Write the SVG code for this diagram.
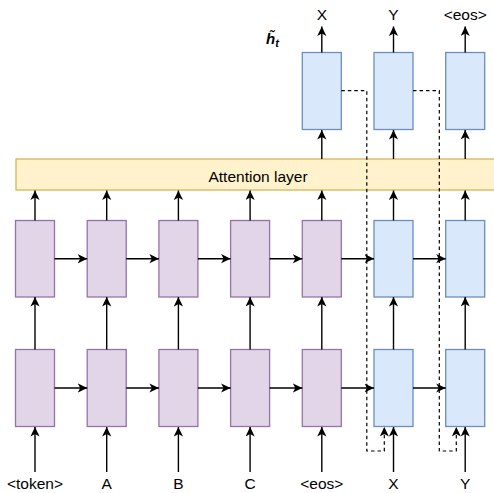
<svg xmlns="http://www.w3.org/2000/svg" width="494" height="493" viewBox="0 0 494 493">
<defs>
<style>
.enc{fill:#e1d5e7;stroke:#9673a6;stroke-width:1.3}
.dec{fill:#dae8fc;stroke:#6c8ebf;stroke-width:1.3}
.att{fill:#fff2cc;stroke:#d6b656;stroke-width:1.3}
.c{fill:none;stroke:#000;stroke-width:1.4;marker-end:url(#ah)}
.da{fill:none;stroke:#000;stroke-width:1.2;stroke-dasharray:3.5 3;marker-end:url(#ah)}
.t{font-family:"Liberation Sans",Arial,sans-serif;font-size:15.5px;fill:#000;text-anchor:middle}
</style>
<marker id="ah" markerUnits="userSpaceOnUse" markerWidth="11" markerHeight="10" refX="9.5" refY="4.6" orient="auto" viewBox="0 0 11 10">
<path d="M0,0 L9.5,4.6 L0,9.2 L2.5,4.6 z" fill="#000"/>
</marker>
</defs>

<g id="attention">
<rect class="att" x="16" y="159" width="490" height="31"/>
<text class="t" x="258" y="182">Attention layer</text>
</g>

<g id="enc-top">
<rect id="e1t" class="enc" x="15.5" y="220.5" width="39" height="76.5"/>
<rect id="e2t" class="enc" x="87.2" y="220.5" width="39" height="76.5"/>
<rect id="e3t" class="enc" x="158.9" y="220.5" width="39" height="76.5"/>
<rect id="e4t" class="enc" x="230.6" y="220.5" width="39" height="76.5"/>
<rect id="e5t" class="enc" x="302.3" y="220.5" width="39" height="76.5"/>
</g>
<g id="dec-top">
<rect id="d1t" class="dec" x="374" y="220.5" width="39" height="76.5"/>
<rect id="d2t" class="dec" x="445.7" y="220.5" width="39" height="76.5"/>
</g>
<g id="enc-bottom">
<rect id="e1b" class="enc" x="15.5" y="349.5" width="39" height="77"/>
<rect id="e2b" class="enc" x="87.2" y="349.5" width="39" height="77"/>
<rect id="e3b" class="enc" x="158.9" y="349.5" width="39" height="77"/>
<rect id="e4b" class="enc" x="230.6" y="349.5" width="39" height="77"/>
<rect id="e5b" class="enc" x="302.3" y="349.5" width="39" height="77"/>
</g>
<g id="dec-bottom">
<rect id="d1b" class="dec" x="374" y="349.5" width="39" height="77"/>
<rect id="d2b" class="dec" x="445.7" y="349.5" width="39" height="77"/>
</g>
<g id="dec-out">
<rect id="o1" class="dec" x="302.3" y="52.5" width="39" height="77"/>
<rect id="o2" class="dec" x="374" y="52.5" width="39" height="77"/>
<rect id="o3" class="dec" x="445.7" y="52.5" width="39" height="77"/>
</g>

<g id="labels">
<text class="t" x="35" y="489">&lt;token&gt;</text>
<text class="t" x="106.7" y="489">A</text>
<text class="t" x="178.4" y="489">B</text>
<text class="t" x="250.1" y="489">C</text>
<text class="t" x="321.8" y="489">&lt;eos&gt;</text>
<text class="t" x="393.5" y="489">X</text>
<text class="t" x="465.2" y="489">Y</text>
<text class="t" x="321.8" y="20">X</text>
<text class="t" x="393.5" y="20">Y</text>
<text class="t" x="465.2" y="20">&lt;eos&gt;</text>
<text x="266" y="44" style="font-family:'Liberation Sans',Arial,sans-serif;font-size:15px;font-weight:bold;font-style:italic;fill:#000">h̃<tspan font-size="11" dy="3">t</tspan></text>
</g>

<g id="connectors">
<path class="c" d="M35,472 V427"/>
<path class="c" d="M106.7,472 V427"/>
<path class="c" d="M178.4,472 V427"/>
<path class="c" d="M250.1,472 V427"/>
<path class="c" d="M321.8,472 V427"/>
<path class="c" d="M393.5,472 V427"/>
<path class="c" d="M465.2,472 V427"/>
<path class="c" d="M54.5,388 H87.2"/>
<path class="c" d="M126.2,388 H158.9"/>
<path class="c" d="M197.9,388 H230.6"/>
<path class="c" d="M269.6,388 H302.3"/>
<path class="c" d="M341.3,388 H374"/>
<path class="c" d="M413,388 H445.7"/>
<path class="c" d="M54.5,258.7 H87.2"/>
<path class="c" d="M126.2,258.7 H158.9"/>
<path class="c" d="M197.9,258.7 H230.6"/>
<path class="c" d="M269.6,258.7 H302.3"/>
<path class="c" d="M341.3,258.7 H374"/>
<path class="c" d="M413,258.7 H445.7"/>
<path class="c" d="M35,349.5 V297"/>
<path class="c" d="M106.7,349.5 V297"/>
<path class="c" d="M178.4,349.5 V297"/>
<path class="c" d="M250.1,349.5 V297"/>
<path class="c" d="M321.8,349.5 V297"/>
<path class="c" d="M393.5,349.5 V297"/>
<path class="c" d="M465.2,349.5 V297"/>
<path class="c" d="M35,220.5 V190.5"/>
<path class="c" d="M106.7,220.5 V190.5"/>
<path class="c" d="M178.4,220.5 V190.5"/>
<path class="c" d="M250.1,220.5 V190.5"/>
<path class="c" d="M321.8,220.5 V190.5"/>
<path class="c" d="M393.5,220.5 V190.5"/>
<path class="c" d="M465.2,220.5 V190.5"/>
<path class="c" d="M321.8,159 V130"/>
<path class="c" d="M393.5,159 V130"/>
<path class="c" d="M465.2,159 V130"/>
<path class="c" d="M321.8,52.5 V26.5"/>
<path class="c" d="M393.5,52.5 V26.5"/>
<path class="c" d="M465.2,52.5 V26.5"/>
<path class="da" d="M341.3,90.7 H366.8 V451 H384.3 V427"/>
<path class="da" d="M413,90.7 H439.3 V451 H456.3 V427"/>
</g>
</svg>
